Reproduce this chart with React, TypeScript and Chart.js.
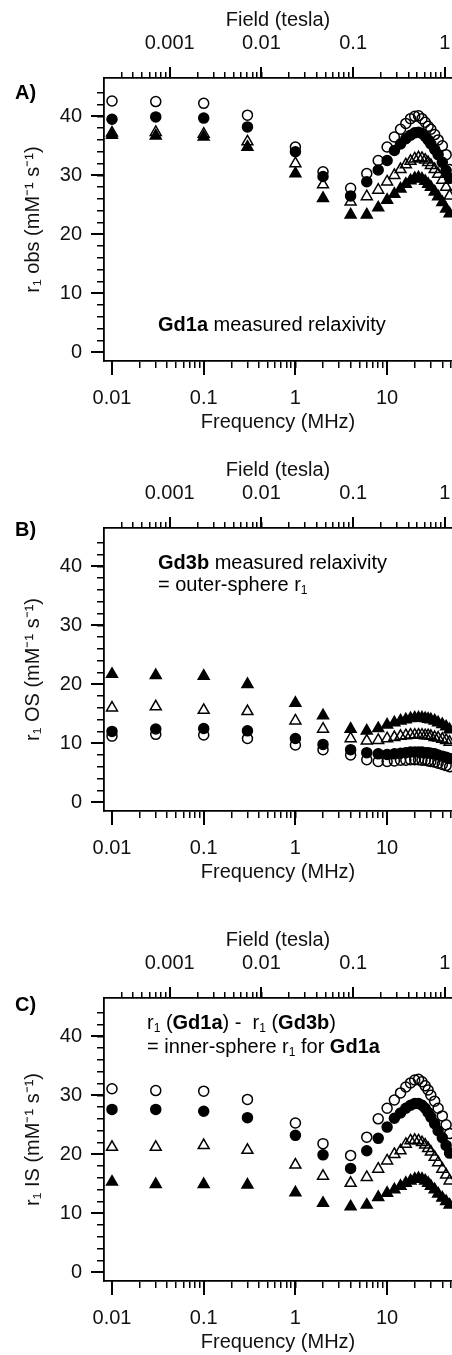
import React, { useEffect, useRef } from "react";
import { Chart, registerables } from "chart.js";

Chart.register(...registerables);

const FONT = "'Liberation Sans', Arial, Helvetica, sans-serif";
const MHZ_PER_TESLA = 42.577;
const W = 452;
const H = 435;

// ---------- data ----------
const freqMHz = [0.01, 0.03, 0.1, 0.3, 1, 2, 4, 6, 8, 10, 12, 14, 16, 18, 20, 22, 24, 26, 28, 30, 33, 36, 40, 44, 48];

// Panel A: Gd1a measured relaxivity
const aOpenCircle = [42.6, 42.5, 42.2, 40.2, 34.8, 30.6, 27.8, 30.3, 32.5, 34.8, 36.5, 37.8, 38.8, 39.6, 40.0, 40.1, 39.6, 39.0, 38.3, 37.8, 36.9, 36.0, 35.0, 33.5, 31.0];
const aFilledCircle = [39.5, 39.9, 39.7, 38.2, 34.0, 29.8, 26.5, 28.9, 30.9, 32.5, 34.2, 35.3, 36.2, 36.8, 37.2, 37.3, 37.1, 36.6, 36.0, 35.3, 34.4, 33.5, 32.2, 30.8, 29.5];
const aOpenTri = [37.2, 37.3, 37.0, 35.7, 32.0, 28.4, 25.5, 26.4, 27.5, 28.9, 30.0, 31.0, 31.8, 32.4, 32.8, 33.0, 32.9, 32.6, 32.2, 31.7, 31.0, 30.2, 29.2, 28.0, 26.5];
const aFilledTri = [36.8, 36.7, 36.5, 34.8, 30.3, 26.1, 23.3, 23.3, 24.5, 25.8, 26.8, 27.7, 28.5, 29.1, 29.5, 29.6, 29.4, 29.0, 28.5, 28.0, 27.2, 26.4, 25.4, 24.3, 23.5];

// Panel B: Gd3b measured relaxivity (outer sphere)
const bOpenCircle = [11.2, 11.5, 11.4, 10.8, 9.7, 8.9, 8.0, 7.2, 6.9, 6.9, 7.0, 7.1, 7.1, 7.2, 7.2, 7.2, 7.1, 7.1, 7.0, 6.9, 6.8, 6.6, 6.4, 6.2, 6.0];
const bFilledCircle = [12.0, 12.4, 12.5, 12.1, 10.8, 9.8, 8.9, 8.4, 8.2, 8.1, 8.2, 8.3, 8.4, 8.5, 8.5, 8.5, 8.5, 8.4, 8.4, 8.3, 8.2, 8.0, 7.8, 7.6, 7.4];
const bOpenTri = [16.0, 16.2, 15.6, 15.4, 13.8, 12.4, 10.8, 10.4, 10.5, 10.8, 11.0, 11.2, 11.3, 11.4, 11.4, 11.4, 11.4, 11.3, 11.3, 11.2, 11.0, 10.9, 10.7, 10.5, 10.2];
const bFilledTri = [21.7, 21.5, 21.4, 20.0, 16.8, 14.7, 12.4, 12.1, 12.5, 13.1, 13.5, 13.8, 14.0, 14.2, 14.3, 14.3, 14.3, 14.2, 14.1, 14.0, 13.8, 13.5, 13.2, 12.8, 12.3];

// Panel C: inner-sphere r1 for Gd1a
const cOpenCircle = [31.1, 30.8, 30.7, 29.3, 25.3, 21.8, 19.8, 22.9, 26.0, 27.8, 29.2, 30.4, 31.4, 32.1, 32.6, 32.7, 32.3, 31.6, 30.9, 30.0, 29.0, 27.8, 26.5, 25.0, 23.5];
const cFilledCircle = [27.6, 27.6, 27.3, 26.2, 23.2, 19.9, 17.6, 20.6, 22.7, 24.6, 26.1, 27.0, 27.8, 28.3, 28.6, 28.6, 28.3, 27.8, 27.1, 26.3, 25.2, 24.0, 22.8, 21.5, 20.2];
const cOpenTri = [21.2, 21.2, 21.5, 20.7, 18.2, 16.3, 15.1, 16.1, 17.5, 18.9, 20.0, 20.6, 21.7, 22.3, 22.4, 22.3, 22.0, 21.6, 21.0, 20.4, 19.5, 18.6, 17.5, 16.5, 15.5];
const cFilledTri = [15.3, 14.9, 14.9, 14.8, 13.5, 11.7, 11.1, 11.4, 12.7, 13.4, 14.0, 14.6, 15.1, 15.5, 15.8, 15.9, 15.8, 15.5, 15.1, 14.6, 14.0, 13.3, 12.6, 12.0, 11.4];

// ---------- ticks ----------
const freqTickValues = [0.01, 0.1, 1, 10];
const freqTickLabels = ["0.01", "0.1", "1", "10"];
const fieldTickValues = [0.001, 0.01, 0.1, 1];
const fieldTickLabels = ["0.001", "0.01", "0.1", "1"];
const yTickValues = [0, 10, 20, 30, 40];
const yTickLabels = ["0", "10", "20", "30", "40"];
const yMinorStep = 2;
const yMinorTop = 44;

const X_MIN = 0.00818;
const X_MAX = 51.0;
const Y_MIN = -1.5;
const Y_MAX = 46.5;

function logMinorTicks(decades: number[], min: number, max: number) {
  const out: number[] = [];
  for (const d of decades) {
    for (let k = 1; k <= 9; k++) {
      const v = Number((d * k).toPrecision(6));
      if (v >= min && v <= max) out.push(v);
    }
  }
  return out;
}

const freqMinor = logMinorTicks([0.01, 0.1, 1, 10], 0.0099, X_MAX);
const fieldMinor = logMinorTicks([0.0001, 0.001, 0.01, 0.1, 1], 0.00025, X_MAX / MHZ_PER_TESLA);
const yMinor: number[] = [];
for (let v = 0; v <= yMinorTop; v += yMinorStep) yMinor.push(v);

type Seg = { t: string; b?: boolean; sub?: boolean };
type Note = { x: number; y: number; segs: Seg[] };
type PanelCfg = {
  top: number;
  tag: string;
  tagY: number;
  yTitle: string;
  notes: Note[];
  openCircle: number[];
  filledCircle: number[];
  openTri: number[];
  filledTri: number[];
};

const panels: PanelCfg[] = [
  {
    top: 0,
    tag: "A)",
    tagY: 93,
    yTitle: "r\u2081 obs (mM\u207B\u00B9 s\u207B\u00B9)",
    notes: [{ x: 158, y: 325, segs: [{ t: "Gd1a", b: true }, { t: " measured relaxivity" }] }],
    openCircle: aOpenCircle,
    filledCircle: aFilledCircle,
    openTri: aOpenTri,
    filledTri: aFilledTri,
  },
  {
    top: 450,
    tag: "B)",
    tagY: 80,
    yTitle: "r\u2081 OS (mM\u207B\u00B9 s\u207B\u00B9)",
    notes: [
      { x: 158, y: 113, segs: [{ t: "Gd3b", b: true }, { t: " measured relaxivity" }] },
      { x: 158, y: 135, segs: [{ t: "= outer-sphere r" }, { t: "1", sub: true }] },
    ],
    openCircle: bOpenCircle,
    filledCircle: bFilledCircle,
    openTri: bOpenTri,
    filledTri: bFilledTri,
  },
  {
    top: 920,
    tag: "C)",
    tagY: 85,
    yTitle: "r\u2081 IS (mM\u207B\u00B9 s\u207B\u00B9)",
    notes: [
      {
        x: 147,
        y: 103,
        segs: [
          { t: "r" }, { t: "1", sub: true }, { t: " (" }, { t: "Gd1a", b: true }, { t: ") -  r" },
          { t: "1", sub: true }, { t: " (" }, { t: "Gd3b", b: true }, { t: ")" },
        ],
      },
      {
        x: 147,
        y: 127,
        segs: [{ t: "= inner-sphere r" }, { t: "1", sub: true }, { t: " for " }, { t: "Gd1a", b: true }],
      },
    ],
    openCircle: cOpenCircle,
    filledCircle: cFilledCircle,
    openTri: cOpenTri,
    filledTri: cFilledTri,
  },
];

function zeroPad(s: any) {
  s.paddingLeft = 0;
  s.paddingRight = 0;
  s.paddingTop = 0;
  s.paddingBottom = 0;
}

function labelFor(values: number[], labels: string[]) {
  return (v: any) => {
    const n = Number(v);
    const i = values.findIndex((x) => Math.abs(x - n) <= 1e-9 * Math.max(1, Math.abs(x)));
    return i >= 0 ? labels[i] : "";
  };
}

function drawRich(ctx: CanvasRenderingContext2D, x: number, y: number, segs: Seg[], size: number) {
  let cx = x;
  for (const s of segs) {
    const fs = s.sub ? Math.round(size * 0.62) : size;
    ctx.font = `${s.b ? "bold " : ""}${fs}px ${FONT}`;
    ctx.fillText(s.t, cx, s.sub ? y + size * 0.3 : y);
    cx += ctx.measureText(s.t).width;
  }
}

function buildConfig(cfg: PanelCfg): any {
  const pts = (arr: number[]) => freqMHz.map((f, i) => ({ x: f, y: arr[i] }));
  const ds = (arr: number[], style: string, r: number, filled: boolean) => ({
    data: pts(arr),
    showLine: false,
    pointStyle: style,
    pointRadius: r,
    pointHoverRadius: r,
    pointBackgroundColor: filled ? "#000" : "rgba(0,0,0,0)",
    pointBorderColor: "#000",
    pointBorderWidth: 1.5,
  });

  const notesPlugin = {
    id: "notes",
    afterDraw(chart: any) {
      const ctx = chart.ctx as CanvasRenderingContext2D;
      ctx.save();
      ctx.fillStyle = "#000";
      ctx.textBaseline = "middle";
      ctx.textAlign = "left";
      ctx.font = `bold 20px ${FONT}`;
      ctx.fillText(cfg.tag, 15, cfg.tagY);
      for (const n of cfg.notes) drawRich(ctx, n.x, n.y, n.segs, 20);
      ctx.restore();
    },
  };

  const tickFont = { family: FONT, size: 20 };

  return {
    type: "scatter",
    data: {
      datasets: [
        ds(cfg.filledTri, "triangle", 6.3, true),
        ds(cfg.filledCircle, "circle", 5, true),
        ds(cfg.openTri, "triangle", 6.3, false),
        ds(cfg.openCircle, "circle", 5, false),
      ],
    },
    options: {
      responsive: false,
      maintainAspectRatio: false,
      devicePixelRatio: 1,
      animation: false,
      events: [],
      layout: { padding: 0, autoPadding: false },
      plugins: { legend: { display: false }, tooltip: { enabled: false }, title: { display: false } },
      scales: {
        x: {
          type: "logarithmic",
          position: "bottom",
          weight: 0,
          min: X_MIN,
          max: X_MAX,
          bounds: "data",
          afterBuildTicks: (s: any) => { s.ticks = freqMinor.map((v) => ({ value: v })); },
          afterFit: (s: any) => { s.height = 0; zeroPad(s); },
          grid: { drawOnChartArea: false, drawTicks: true, tickLength: 7, tickWidth: 1.5, lineWidth: 1.5, tickColor: "#000" },
          border: { display: true, color: "#000", width: 1.8 },
          ticks: { display: false },
        },
        xMaj: {
          type: "logarithmic",
          position: "bottom",
          weight: 1,
          min: X_MIN,
          max: X_MAX,
          bounds: "data",
          afterBuildTicks: (s: any) => { s.ticks = freqTickValues.map((v) => ({ value: v, major: true })); },
          afterFit: (s: any) => { s.height = 74; zeroPad(s); },
          grid: { drawOnChartArea: false, drawTicks: true, tickLength: 14, tickWidth: 2, lineWidth: 2, tickColor: "#000" },
          border: { display: false },
          ticks: {
            display: true, autoSkip: false, maxRotation: 0, padding: 11, color: "#111", font: tickFont,
            callback: labelFor(freqTickValues, freqTickLabels),
          },
          title: { display: true, text: "Frequency (MHz)", color: "#111", font: tickFont, padding: { top: 0, bottom: 1 } },
        },
        fMin: {
          type: "logarithmic",
          position: "top",
          axis: "x",
          weight: 0,
          min: X_MIN / MHZ_PER_TESLA,
          max: X_MAX / MHZ_PER_TESLA,
          bounds: "data",
          afterBuildTicks: (s: any) => { s.ticks = fieldMinor.map((v) => ({ value: v })); },
          afterFit: (s: any) => { s.height = 0; zeroPad(s); },
          grid: { drawOnChartArea: false, drawTicks: true, tickLength: 6, tickWidth: 1.5, lineWidth: 1.5, tickColor: "#000" },
          border: { display: true, color: "#000", width: 1.8 },
          ticks: { display: false },
        },
        fMaj: {
          type: "logarithmic",
          position: "top",
          axis: "x",
          weight: 1,
          min: X_MIN / MHZ_PER_TESLA,
          max: X_MAX / MHZ_PER_TESLA,
          bounds: "data",
          afterBuildTicks: (s: any) => { s.ticks = fieldTickValues.map((v) => ({ value: v, major: true })); },
          afterFit: (s: any) => { s.height = 78; zeroPad(s); },
          grid: { drawOnChartArea: false, drawTicks: true, tickLength: 11, tickWidth: 2, lineWidth: 2, tickColor: "#000" },
          border: { display: false },
          ticks: {
            display: true, autoSkip: false, maxRotation: 0, padding: 12, color: "#111", font: tickFont,
            callback: labelFor(fieldTickValues, fieldTickLabels),
          },
          title: { display: true, text: "Field (tesla)", color: "#111", font: tickFont, padding: { top: 8, bottom: 0 } },
        },
        y: {
          type: "linear",
          position: "left",
          weight: 0,
          min: Y_MIN,
          max: Y_MAX,
          bounds: "data",
          afterBuildTicks: (s: any) => { s.ticks = yMinor.map((v) => ({ value: v })); },
          afterFit: (s: any) => { s.width = 0; zeroPad(s); },
          grid: { drawOnChartArea: false, drawTicks: true, tickLength: 7, tickWidth: 1.5, lineWidth: 1.5, tickColor: "#000" },
          border: { display: true, color: "#000", width: 1.8 },
          ticks: { display: false },
        },
        yMaj: {
          type: "linear",
          position: "left",
          axis: "y",
          weight: 1,
          min: Y_MIN,
          max: Y_MAX,
          bounds: "data",
          afterBuildTicks: (s: any) => { s.ticks = yTickValues.map((v) => ({ value: v, major: true })); },
          afterFit: (s: any) => { s.width = 104; zeroPad(s); },
          grid: { drawOnChartArea: false, drawTicks: true, tickLength: 13, tickWidth: 2, lineWidth: 2, tickColor: "#000" },
          border: { display: false },
          ticks: {
            display: true, autoSkip: false, padding: 9, color: "#111", font: tickFont,
            callback: labelFor(yTickValues, yTickLabels),
          },
          title: { display: true, text: cfg.yTitle, color: "#111", font: tickFont, padding: { top: 21, bottom: 0 } },
        },
      },
    },
    plugins: [notesPlugin],
  };
}

function Panel({ cfg }: { cfg: PanelCfg }) {
  const ref = useRef<HTMLCanvasElement>(null);
  useEffect(() => {
    if (!ref.current) return;
    const chart = new Chart(ref.current, buildConfig(cfg));
    return () => chart.destroy();
  }, [cfg]);
  return (
    <canvas
      ref={ref}
      width={W}
      height={H}
      style={{ position: "absolute", left: 0, top: cfg.top, width: W, height: H, display: "block" }}
    />
  );
}

export default function App() {
  return (
    <div style={{ position: "absolute", left: 0, top: 0, width: W, height: 1355, overflow: "hidden", background: "#fff" }}>
      {panels.map((p) => (
        <Panel key={p.tag} cfg={p} />
      ))}
    </div>
  );
}
